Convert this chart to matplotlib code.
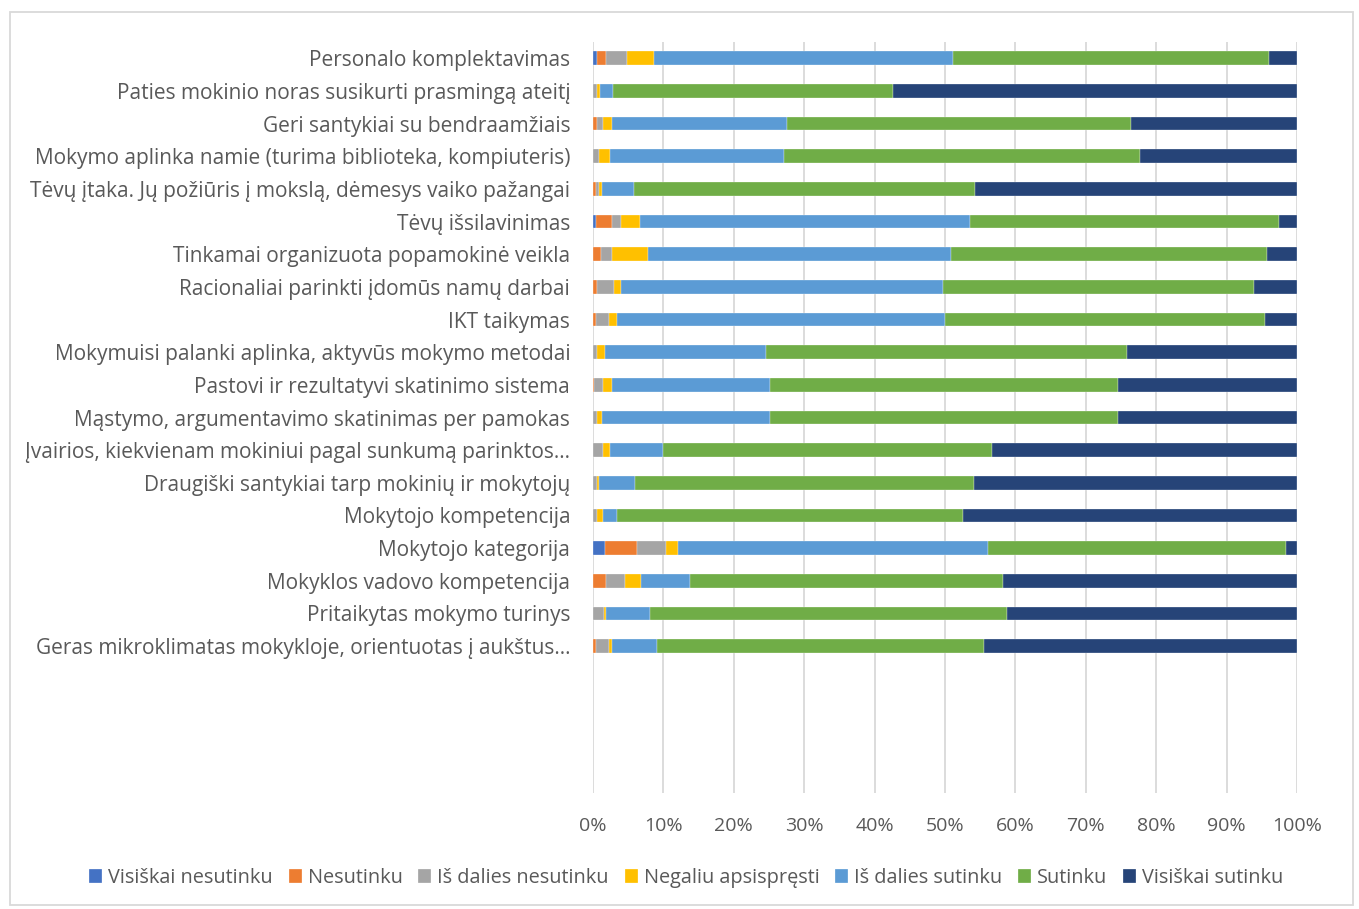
import matplotlib.pyplot as plt
from matplotlib.patches import Rectangle
import numpy as np

plt.rcParams['font.family'] = ['Open Sans', 'DejaVu Sans']

categories = [
    'Personalo komplektavimas',
    'Paties mokinio noras susikurti prasmingą ateitį',
    'Geri santykiai su bendraamžiais',
    'Mokymo aplinka namie (turima biblioteka, kompiuteris)',
    'Tėvų įtaka. Jų požiūris į mokslą, dėmesys vaiko pažangai',
    'Tėvų išsilavinimas',
    'Tinkamai organizuota popamokinė veikla',
    'Racionaliai parinkti įdomūs namų darbai',
    'IKT taikymas',
    'Mokymuisi palanki aplinka, aktyvūs mokymo metodai',
    'Pastovi ir rezultatyvi skatinimo sistema',
    'Mąstymo, argumentavimo skatinimas per pamokas',
    'Įvairios, kiekvienam mokiniui pagal sunkumą parinktos…',
    'Draugiški santykiai tarp mokinių ir mokytojų',
    'Mokytojo kompetencija',
    'Mokytojo kategorija',
    'Mokyklos vadovo kompetencija',
    'Pritaikytas mokymo turinys',
    'Geras mikroklimatas mokykloje, orientuotas į aukštus…',
]

series_names = ['Visiškai nesutinku', 'Nesutinku', 'Iš dalies nesutinku',
                'Negaliu apsispręsti', 'Iš dalies sutinku', 'Sutinku',
                'Visiškai sutinku']

visiskai_nesutinku = [0.6, 0, 0, 0, 0, 0.35, 0, 0, 0, 0, 0, 0, 0, 0, 0, 1.7, 0, 0, 0]
nesutinku = [1.3, 0, 0.6, 0, 0.4, 2.35, 1.1, 0.6, 0.35, 0, 0.2, 0, 0, 0, 0, 4.5, 1.9, 0, 0.4]
is_dalies_nesutinku = [2.9, 0.5, 0.8, 0.9, 0.5, 1.3, 1.6, 2.4, 1.95, 0.6, 1.2, 0.6, 1.4, 0.6, 0.6, 4.1, 2.6, 1.6, 1.8]
negaliu = [3.8, 0.5, 1.3, 1.5, 0.3, 2.6, 5.1, 1.0, 1.1, 1.1, 1.3, 0.6, 1.0, 0.3, 0.8, 1.8, 2.3, 0.3, 0.5]
is_dalies_sutinku = [42.6, 1.9, 24.8, 24.7, 4.6, 46.9, 43.1, 45.7, 46.6, 22.8, 22.4, 23.9, 7.5, 5.1, 2.0, 44.0, 6.9, 6.2, 6.4]
sutinku = [44.8, 39.7, 48.9, 50.6, 48.4, 44.0, 44.8, 44.2, 45.4, 51.3, 49.5, 49.5, 46.7, 48.1, 49.1, 42.3, 44.5, 50.7, 46.4]
visiskai_sutinku = [4.0, 57.4, 23.6, 22.3, 45.8, 2.5, 4.3, 6.1, 4.6, 24.2, 25.4, 25.4, 43.4, 45.9, 47.5, 1.6, 41.8, 41.2, 44.5]

colors = ['#4472C4', '#ED7D31', '#A5A5A5', '#FFC000', '#5B9BD5', '#70AD47', '#264478']

data = np.array([visiskai_nesutinku, nesutinku, is_dalies_nesutinku, negaliu,
                 is_dalies_sutinku, sutinku, visiskai_sutinku])
data = data / data.sum(axis=0) * 100

fig = plt.figure(figsize=(13.59, 9.09), dpi=100)
ax = fig.add_axes([0.4364, 0.1276, 0.518, 0.8262])

y = np.arange(len(categories))
left = np.zeros(len(categories))
for name, vals, c in zip(series_names, data, colors):
    ax.barh(y, vals, left=left, height=0.42, color=c, label=name, zorder=3,
            edgecolor='white', linewidth=0.2)
    left += vals

ax.set_xlim(0, 100)
ax.set_ylim(22.5, -0.5)
ax.set_xticks(np.arange(0, 101, 10))
ax.set_xticklabels([f'{v}%' for v in range(0, 101, 10)])
ax.set_yticks(y)
ax.set_yticklabels(categories)
ax.tick_params(axis='both', length=0, colors='#595959')
ax.tick_params(axis='x', pad=17, labelsize=14)
ax.tick_params(axis='y', pad=16.5, labelsize=15)
ax.grid(axis='x', color='#D9D9D9', linewidth=1.3, zorder=0)
for s in ax.spines.values():
    s.set_visible(False)

fig.legend(loc='center', bbox_to_anchor=(0.505, 0.034), ncol=7, frameon=False,
           fontsize=14.3, handlelength=0.65, handleheight=0.75, handletextpad=0.3,
           columnspacing=0.8, labelcolor='#595959')

fig.patches.append(Rectangle((10 / 1359, 4 / 909), 1343 / 1359, 893 / 909,
                             transform=fig.transFigure, fill=False,
                             edgecolor='#D9D9D9', linewidth=1.3))

fig.savefig('out.png', dpi=100)
